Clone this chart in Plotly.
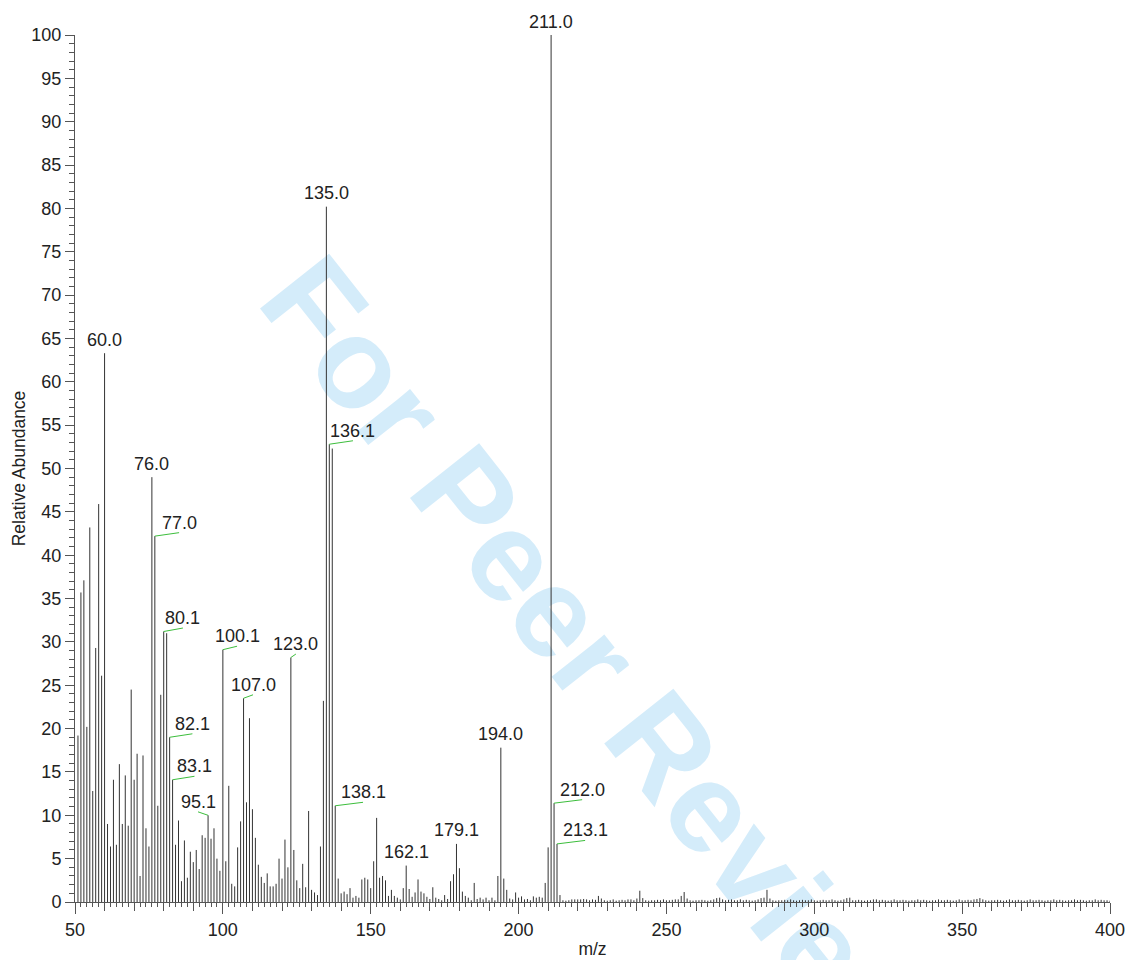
import plotly.graph_objects as go

# ---------------- data ----------------
mz = list(range(51, 401))
intensity = [
    19.2, 35.7, 37.1, 20.2, 43.2, 12.8, 29.3, 45.9, 26.1, 63.3,   # 51-60
    9.0, 6.4, 14.1, 6.6, 15.9, 9.0, 14.6, 8.8, 24.5, 14.1,        # 61-70
    17.1, 3.0, 16.9, 8.5, 6.4, 49.0, 42.2, 11.1, 23.9, 31.2,      # 71-80
    31.0, 19.0, 14.1, 6.6, 9.4, 2.4, 7.1, 2.8, 5.8, 4.6,          # 81-90
    6.0, 3.8, 7.7, 7.4, 10.0, 7.3, 8.5, 5.0, 3.6, 29.1,           # 91-100
    4.7, 13.4, 2.1, 1.8, 6.3, 9.3, 23.5, 11.5, 21.2, 10.7,        # 101-110
    7.4, 4.3, 2.9, 2.2, 3.3, 1.8, 1.8, 2.1, 5.0, 2.7,             # 111-120
    7.2, 4.0, 28.2, 6.0, 2.5, 1.6, 4.4, 1.7, 10.5, 1.4,           # 121-130
    1.1, 0.8, 6.4, 23.2, 80.2, 52.8, 52.3, 11.1, 2.7, 1.0,        # 131-140
    1.2, 0.9, 1.6, 0.5, 0.7, 0.5, 2.6, 2.8, 2.6, 1.6,             # 141-150
    4.7, 9.7, 2.8, 3.0, 2.5, 0.7, 1.4, 0.7, 0.5, 0.3,             # 151-160
    1.6, 4.2, 1.5, 0.6, 1.1, 2.6, 1.2, 1.0, 0.6, 0.35,            # 161-170
    1.7, 0.5, 0.35, 0.2, 0.8, 0.35, 2.4, 3.2, 6.7, 3.9,           # 171-180
    1.2, 0.7, 0.5, 0.2, 2.2, 0.35, 0.5, 0.3, 0.5, 0.2,            # 181-190
    0.5, 0.2, 3.0, 17.8, 2.7, 1.4, 0.4, 0.3, 1.1, 0.5,            # 191-200
    0.65, 0.3, 0.35, 0.2, 0.65, 0.5, 0.6, 0.5, 2.2, 6.3,          # 201-210
    100.0, 11.4, 6.7, 0.8, 0.2, 0.15, 0.2, 0.3, 0.3, 0.3,         # 211-220
    0.3, 0.35, 0.3, 0.2, 0.3, 0.25, 0.7, 0.4, 0.2, 0.15,          # 221-230
    0.2, 0.3, 0.15, 0.2, 0.25, 0.2, 0.3, 0.3, 0.2, 0.4,           # 231-240
    1.3, 0.45, 0.2, 0.15, 0.2, 0.2, 0.25, 0.2, 0.3, 0.2,          # 241-250
    0.2, 0.25, 0.3, 0.3, 0.7, 1.15, 0.4, 0.2, 0.15, 0.2,          # 251-260
    0.2, 0.25, 0.2, 0.15, 0.2, 0.3, 0.45, 0.5, 0.3, 0.2,          # 261-270
    0.25, 0.3, 0.2, 0.2, 0.3, 0.2, 0.25, 0.2, 0.15, 0.2,          # 271-280
    0.3, 0.45, 0.5, 1.4, 0.4, 0.2, 0.15, 0.2, 0.2, 0.25,          # 281-290
    0.2, 0.3, 0.2, 0.15, 0.2, 0.25, 0.2, 0.2, 0.3, 0.2,           # 291-300
    0.15, 0.2, 0.25, 0.2, 0.2, 0.3, 0.2, 0.15, 0.2, 0.3,          # 301-310
    0.45, 0.5, 0.2, 0.2, 0.25, 0.2, 0.15, 0.2, 0.2, 0.3,          # 311-320
    0.3, 0.2, 0.25, 0.2, 0.15, 0.2, 0.3, 0.2, 0.2, 0.25,          # 321-330
    0.2, 0.15, 0.2, 0.2, 0.3, 0.2, 0.25, 0.2, 0.15, 0.2,          # 331-340
    0.2, 0.3, 0.2, 0.2, 0.25, 0.2, 0.15, 0.2, 0.3, 0.2,           # 341-350
    0.2, 0.25, 0.2, 0.3, 0.35, 0.45, 0.3, 0.2, 0.15, 0.2,         # 351-360
    0.2, 0.25, 0.2, 0.15, 0.2, 0.3, 0.2, 0.2, 0.25, 0.2,          # 361-370
    0.15, 0.2, 0.3, 0.2, 0.2, 0.25, 0.2, 0.15, 0.2, 0.2,          # 371-380
    0.3, 0.2, 0.25, 0.2, 0.15, 0.2, 0.2, 0.3, 0.2, 0.25,          # 381-390
    0.2, 0.15, 0.2, 0.2, 0.3, 0.2, 0.25, 0.2, 0.2, 0.15,          # 391-400
]

label_mz = [60, 76, 77, 80, 82, 83, 95, 100, 107, 123, 135, 136, 138, 162, 179, 194, 211, 212, 213]
label_text = ["60.0", "76.0", "77.0", "80.1", "82.1", "83.1", "95.1", "100.1", "107.0", "123.0",
              "135.0", "136.1", "138.1", "162.1", "179.1", "194.0", "211.0", "212.0", "213.1"]

x_ticks = [50, 100, 150, 200, 250, 300, 350, 400]
y_ticks = [0, 5, 10, 15, 20, 25, 30, 35, 40, 45, 50, 55, 60, 65, 70, 75, 80, 85, 90, 95, 100]

# ---------------- layout helpers (label placement, m/z units) ----------------
label_shift = {77: 8.2, 80: 6.5, 82: 7.7, 83: 7.4, 95: -3.4, 100: 4.8, 107: 3.2,
               123: 1.7, 136: 8.0, 138: 9.4, 212: 9.5, 213: 9.5}
label_rise = 0.4       # leader rise, data units
label_yshift = 1.5     # px

FONT = "Liberation Sans, Arial, sans-serif"
TXT = "#222222"
AX = "#555555"

peak = dict(zip(mz, intensity))

# sticks
sx, sy = [], []
for m, v in zip(mz, intensity):
    sx += [m, m, None]
    sy += [0, v, None]

# leaders
lx, ly = [], []
for m in label_mz:
    d = label_shift.get(m, 0)
    if d:
        lx += [m, m + d, None]
        ly += [peak[m], peak[m] + label_rise, None]

fig = go.Figure()
fig.add_trace(go.Scatter(x=sx, y=sy, mode="lines", line=dict(color="#333333", width=1),
                         hoverinfo="skip", showlegend=False))
fig.add_trace(go.Scatter(x=lx, y=ly, mode="lines", line=dict(color="rgb(60,190,60)", width=1),
                         hoverinfo="skip", showlegend=False))
# medium x ticks via an overlaid axis
fig.add_trace(go.Scatter(x=[50, 400], y=[None, None], xaxis="x2", yaxis="y",
                         mode="lines", showlegend=False, hoverinfo="skip"))

for m, t in zip(label_mz, label_text):
    d = label_shift.get(m, 0)
    fig.add_annotation(x=m + d, y=peak[m], text=t, showarrow=False,
                       xanchor="center", yanchor="bottom", yshift=label_yshift,
                       font=dict(family=FONT, size=18, color=TXT))

# watermark behind the data
fig.add_shape(type="line", xref="paper", yref="paper",
              x0=0.455, y0=0.373, x1=0.575, y1=0.192,
              line=dict(color="rgba(0,0,0,0)", width=0), layer="below",
              label=dict(text="For Peer Review", textposition="middle", yanchor="middle",
                         font=dict(family="Liberation Sans", size=128, color="rgb(212,236,250)",
                                   weight="bold")))

fig.update_layout(
    width=1130, height=960,
    margin=dict(l=75, r=20, t=35, b=58),
    paper_bgcolor="white", plot_bgcolor="white",
    font=dict(family=FONT, size=18, color=TXT),
    showlegend=False,
    xaxis=dict(range=[50, 400], showline=True, linecolor=AX, linewidth=1,
               ticks="outside", ticklen=11, tickcolor=AX, tickwidth=1,
               tickmode="array", tickvals=x_ticks, ticktext=[str(v) for v in x_ticks],
               minor=dict(tick0=50, dtick=2, ticks="outside", ticklen=4, tickcolor=AX, tickwidth=1),
               showgrid=False, zeroline=False, automargin=False,
               tickfont=dict(size=18, color=TXT),
               title=dict(text="m/z", font=dict(size=17.5, color=TXT), standoff=4)),
    xaxis2=dict(range=[50, 400], overlaying="x", anchor="y", side="bottom",
                tickmode="linear", tick0=50, dtick=10, ticks="outside", ticklen=8,
                tickcolor=AX, tickwidth=1, showticklabels=False, showline=False,
                showgrid=False, zeroline=False),
    yaxis=dict(range=[0, 100], showline=True, linecolor=AX, linewidth=1,
               ticks="outside", ticklen=9, tickcolor=AX, tickwidth=1,
               tickmode="array", tickvals=y_ticks, ticktext=[str(v) for v in y_ticks],
               minor=dict(tick0=0, dtick=1, ticks="outside", ticklen=5, tickcolor=AX, tickwidth=1),
               showgrid=False, zeroline=False, automargin=False,
               tickfont=dict(size=18, color=TXT),
               title=dict(text="Relative Abundance", font=dict(size=17.5, color=TXT), standoff=1)),
)

fig.write_html("out.html")
